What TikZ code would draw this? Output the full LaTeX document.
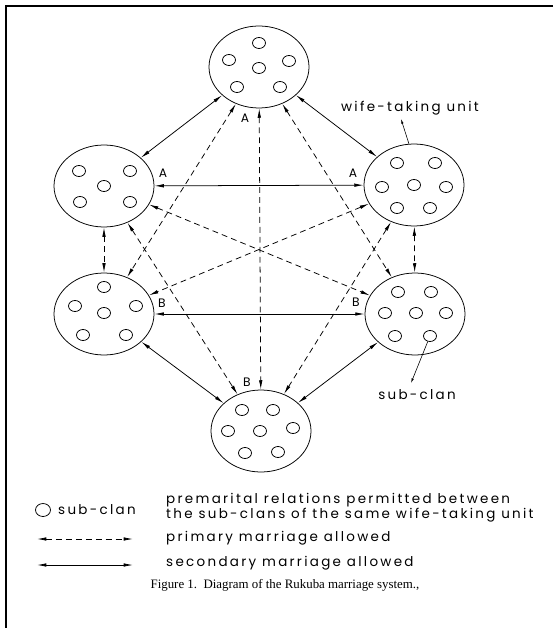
\documentclass[tikz,border=0pt]{standalone}
\usepackage{fontspec}
\newfontfamily\unitfont{Poppins}[LetterSpace=17]
\newfontfamily\markfont{Poppins}
\newfontfamily\capfont{Liberation Serif}
\usetikzlibrary{shapes.geometric,arrows.meta,calc}

\begin{document}
\begin{tikzpicture}
    [ x=0.03cm, y=-0.03cm
    , >={Latex[length=8pt,width=3pt]}
    , unit/.style={draw, ellipse, line width=0.65pt, minimum width=3cm, minimum height=2.46cm, inner sep=0pt}
    , clan/.style={draw, ellipse, line width=0.65pt, minimum width=0.39cm, minimum height=0.33cm, inner sep=0pt}
    , secondary/.style={<->, line width=0.65pt}
    , primary/.style={<->, line width=0.65pt, dash pattern=on 5pt off 3.5pt}
    , pointer/.style={-{Latex[length=4pt,width=2pt]}, line width=0.5pt}
    , endlabel/.style={font=\markfont\fontsize{10.5}{10.5}\selectfont, inner sep=0pt}
    , legendtext/.style={font=\unitfont\fontsize{11.5}{12.8}\selectfont, inner sep=0pt, anchor=west, align=left}
    ]
\useasboundingbox (0,0) rectangle (553,628);
\draw[line width=1.8pt] (553,6) -- (6,6) -- (6,628);

% wife-taking units
\node[unit] (top) at (259,67) {};
\node[unit] (lu) at (104,186) {};
\node[unit] (ru) at (414,185) {};
\node[unit] (ll) at (104,314) {};
\node[unit] (rl) at (415,314) {};
\node[unit] (bot) at (261,431) {};

% sub-clans
\foreach \dx/\dy [count=\i] in {0/-24, -30/-7, 30/-6, 0/1, -22/20, 21/20}
    \node[clan] (top-\i) at ($(top)+(\dx,\dy)$) {};
\foreach \dx/\dy [count=\i] in {-25/-15, 26/-15, 0/0, -24/16, 26/16}
    \node[clan] (lu-\i) at ($(lu)+(\dx,\dy)$) {};
\foreach \dx/\dy [count=\i] in {-17/-22, 21/-22, -32/2, 0/0, 32/2, -17/23, 16/23}
    \node[clan] (ru-\i) at ($(ru)+(\dx,\dy)$) {};
\foreach \dx/\dy [count=\i] in {0/-27, -29/-8, 32/-8, 0/-1, -21/21, 22/21}
    \node[clan] (ll-\i) at ($(ll)+(\dx,\dy)$) {};
\foreach \dx/\dy [count=\i] in {-17/-22, 16/-22, -30/-1, 1/-1, 31/-1, -20/22, 15/22}
    \node[clan] (rl-\i) at ($(rl)+(\dx,\dy)$) {};
\foreach \dx/\dy [count=\i] in {-19/-21, 12/-21, -33/0, -1/0, 32/-3, -16/22, 17/21}
    \node[clan] (bot-\i) at ($(bot)+(\dx,\dy)$) {};

% secondary marriage
\draw[secondary] (top) -- (lu);
\draw[secondary] (top) -- (ru);
\draw[secondary] (lu) -- (ru);
\draw[secondary] (ll) -- (rl);
\draw[secondary] (ll) -- (bot);
\draw[secondary] (rl) -- (bot);

% primary marriage
\draw[primary] (lu) -- (ll);
\draw[primary] (ru) -- (rl);
\draw[primary] (top) -- (bot);
\draw[primary] (top) -- (ll);
\draw[primary] (top) -- (rl);
\draw[primary] (lu) -- (rl);
\draw[primary] (ru) -- (ll);
\draw[primary] (lu) -- (bot);
\draw[primary] (ru) -- (bot);

\node[endlabel] (a-top) at (245,118) {A};
\node[endlabel] (a-left) at (163,173) {A};
\node[endlabel] (a-right) at (353,173) {A};
\node[endlabel] (b-left) at (162,303) {B};
\node[endlabel] (b-right) at (356,302) {B};
\node[endlabel] (b-bot) at (247,382) {B};

\node[legendtext, anchor=center] (wife) at (410,108) {wife-taking unit};
\coordinate (wifetip) at (401,119);
\draw[pointer] (ru.97) -- (wifetip);

\node[legendtext, anchor=center] (subclan) at (417,395) {sub-clan};
\coordinate (clantip) at (411,383);
\draw[pointer] (rl-7) -- (clantip);

% key
\node[clan, minimum width=0.45cm, minimum height=0.39cm] (key-clan) at (43,510) {};
\node[legendtext] (key-clan-text) at (58,510) {sub-clan};
\node[legendtext] (key-premarital) at (166,508) {premarital relations permitted between\\the sub-clans of the same wife-taking unit};
\coordinate (key-p1) at (37,539);
\coordinate (key-p2) at (133,539);
\draw[primary] (key-p1) -- (key-p2);
\node[legendtext] (key-primary) at (166,538) {primary marriage allowed};
\coordinate (key-s1) at (37,565);
\coordinate (key-s2) at (133,565);
\draw[secondary] (key-s1) -- (key-s2);
\node[legendtext] (key-secondary) at (166,563) {secondary marriage allowed};

\node[font=\capfont\fontsize{11}{13}\selectfont, inner sep=0pt] (caption) at (285,585) {Figure 1.\ \ Diagram of the Rukuba marriage system.,};
\end{tikzpicture}
\end{document}
